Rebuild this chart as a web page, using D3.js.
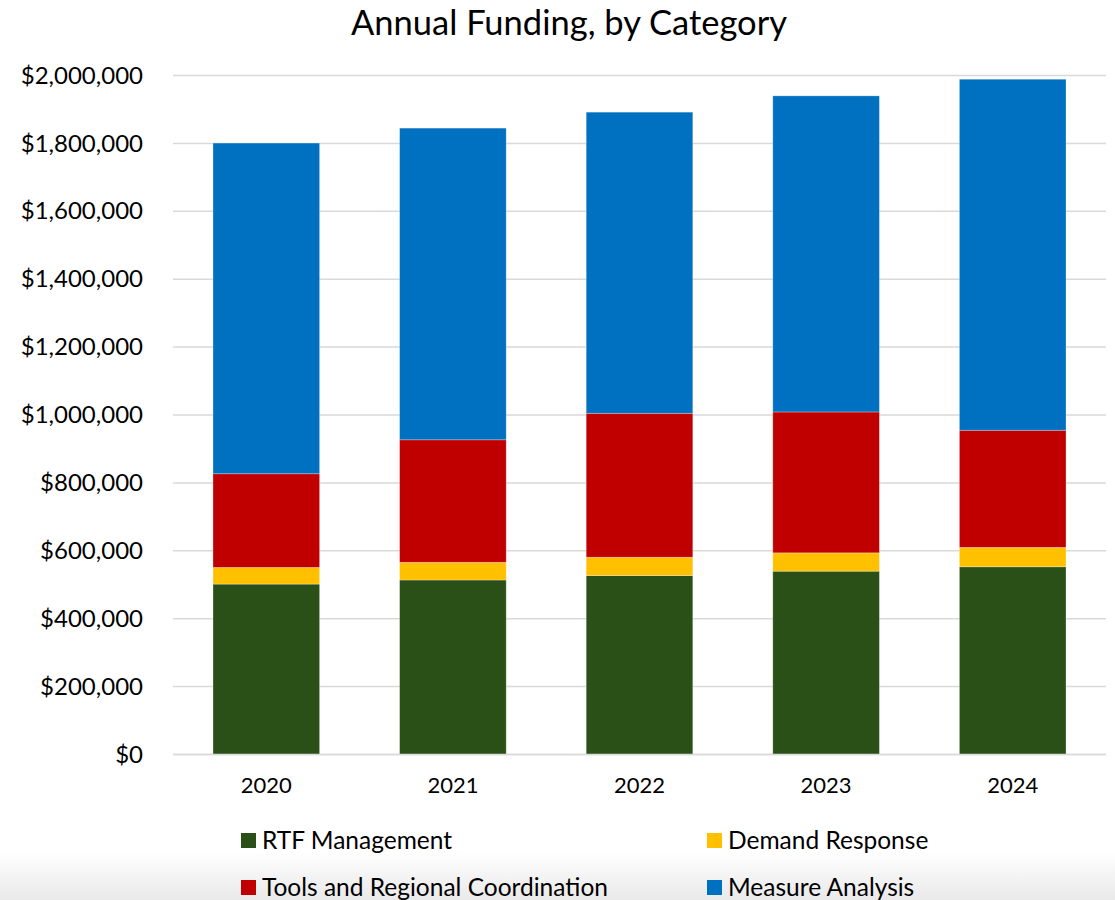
<!DOCTYPE html>
<html>
<head>
<meta charset="utf-8">
<script src="https://cdn.jsdelivr.net/npm/d3@7"></script>
<style>
  html, body { margin: 0; padding: 0; background: #fff; }
  svg { display: block; font-family: Lato, "Open Sans", sans-serif; }
</style>
</head>
<body>
<svg id="chart" width="1115" height="900"></svg>
<script>
// Funding years
const years = ["2020", "2021", "2022", "2023", "2024"];

// Funding per category, in dollars
const rtfManagement = [502000, 514000, 527000, 540000, 553000];
const demandResponse = [49000, 52000, 54000, 54000, 57000];
const toolsCoordination = [276000, 361000, 424000, 415000, 345000];
const measureAnalysis = [974000, 918000, 887000, 931000, 1034000];

const seriesNames = ["RTF Management", "Demand Response", "Tools and Regional Coordination", "Measure Analysis"];
const seriesColors = ["#2B5017", "#FFC000", "#C00000", "#0070C0"];
const yTicks = [0, 200000, 400000, 600000, 800000, 1000000, 1200000, 1400000, 1600000, 1800000, 2000000];

const rows = years.map((y, i) => ({
  year: y,
  "RTF Management": rtfManagement[i],
  "Demand Response": demandResponse[i],
  "Tools and Regional Coordination": toolsCoordination[i],
  "Measure Analysis": measureAnalysis[i]
}));

const svg = d3.select("#chart");
const W = 1115, H = 900;

// soft grey fade along the bottom edge
const defs = svg.append("defs");
const grad = defs.append("linearGradient").attr("id", "fade").attr("x1", 0).attr("y1", 0).attr("x2", 0).attr("y2", 1);
grad.append("stop").attr("offset", "0%").attr("stop-color", "#ffffff");
grad.append("stop").attr("offset", "100%").attr("stop-color", "#e9e9e9");
svg.append("rect").attr("x", 0).attr("y", 852).attr("width", W).attr("height", H - 852).attr("fill", "url(#fade)");

const plot = { left: 173, right: 1106, top: 75.5, bottom: 754.5 };

const x = d3.scaleBand().domain(years).range([plot.left, plot.right]).paddingInner(80 / 186.6).paddingOuter(40 / 186.6);
const y = d3.scaleLinear().domain([0, 2000000]).range([plot.bottom, plot.top]);

// gridlines
svg.append("g")
  .selectAll("line")
  .data(yTicks)
  .join("line")
  .attr("x1", plot.left).attr("x2", plot.right)
  .attr("y1", d => y(d)).attr("y2", d => y(d))
  .attr("stroke", "#d9d9d9").attr("stroke-width", 1.5);

// y axis labels
const fmt = d => "$" + d3.format(",")(d);
const yAxis = d3.axisLeft(y).tickValues(yTicks).tickFormat(fmt).tickSize(0).tickPadding(0);
const gy = svg.append("g").attr("transform", `translate(143,0)`).call(yAxis);
gy.select(".domain").remove();
gy.selectAll("text").attr("font-size", 24).attr("fill", "#000").attr("font-family", "Lato, sans-serif");

// stacked bars
const stack = d3.stack().keys(seriesNames);
const layers = stack(rows);
svg.append("g")
  .selectAll("g")
  .data(layers)
  .join("g")
  .attr("fill", (d, i) => seriesColors[i])
  .selectAll("rect")
  .data(d => d.map((v, i) => ({ v, year: years[i] })))
  .join("rect")
  .attr("x", d => x(d.year))
  .attr("width", x.bandwidth())
  .attr("y", d => y(d.v[1]))
  .attr("height", d => y(d.v[0]) - y(d.v[1]))
  .attr("stroke", "rgba(255,255,255,0.35)")
  .attr("stroke-width", 0.8);

// x axis line
svg.append("line")
  .attr("x1", plot.left).attr("x2", plot.right)
  .attr("y1", y(0)).attr("y2", y(0))
  .attr("stroke", "#d9d9d9").attr("stroke-width", 1.5);

// x axis labels
const xAxis = d3.axisBottom(x).tickSize(0).tickPadding(0);
const gx = svg.append("g").attr("transform", `translate(0,${y(0) + 23})`).call(xAxis);
gx.select(".domain").remove();
gx.selectAll("text").attr("font-size", 22).attr("fill", "#000").attr("font-family", "Lato, sans-serif").attr("dy", "0.71em");

// title
svg.append("text")
  .attr("x", 569).attr("y", 35)
  .attr("text-anchor", "middle")
  .attr("font-size", 34.5)
  .attr("fill", "#000")
  .text("Annual Funding, by Category");

// legend (two columns, two rows)
const legendPos = [
  { x: 241, y: 833 },
  { x: 707, y: 833 },
  { x: 241, y: 880 },
  { x: 707, y: 880 }
];
const lg = svg.append("g")
  .selectAll("g")
  .data(seriesNames)
  .join("g")
  .attr("transform", (d, i) => `translate(${legendPos[i].x},${legendPos[i].y})`);
lg.append("rect").attr("width", 15).attr("height", 15).attr("fill", (d, i) => seriesColors[i]);
lg.append("text").attr("x", 21).attr("y", 7.5).attr("dy", "0.36em")
  .attr("font-size", 24.5).attr("fill", "#000").text(d => d);
</script>
</body>
</html>
